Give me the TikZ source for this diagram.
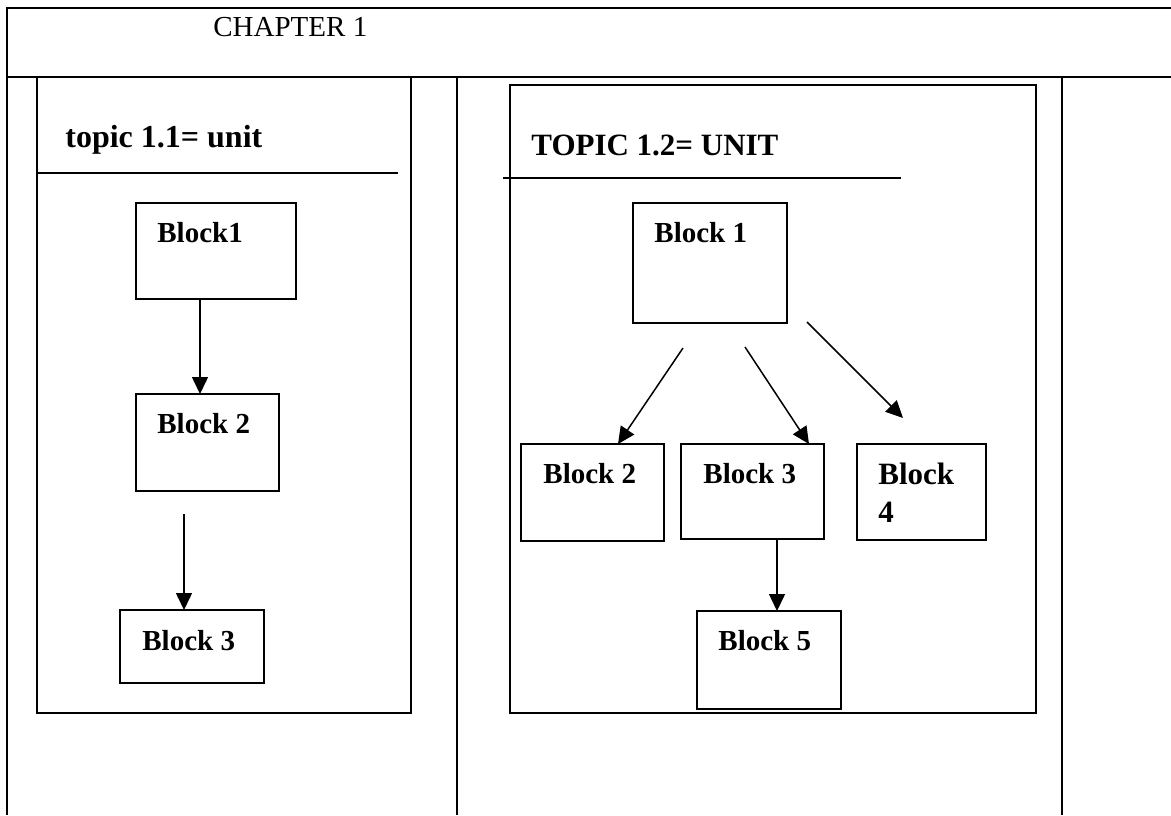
\documentclass[tikz,border=0pt]{standalone}
\usepackage{fontspec}
\setmainfont{Liberation Serif}
\usetikzlibrary{arrows.meta,calc}
\begin{document}
\begin{tikzpicture}[x=0.5pt,y=-0.5pt,
  frame/.style={line width=1pt},
  sepline/.style={line width=0.7pt},
  topicbox/.style={draw,line width=0.9pt,inner sep=0pt,outer sep=0pt,anchor=north west},
  blockbox/.style={draw,line width=0.8pt,inner sep=0pt,outer sep=0pt,anchor=north west},
  blabel/.style={anchor=base west,inner sep=0pt,xshift=10.5pt,yshift=-19.5pt,font=\fontsize{14.5}{17}\selectfont\bfseries},
  bigblabel/.style={blabel,font=\fontsize{15.5}{19}\selectfont\bfseries},
  arr/.style={line width=0.75pt,-{Triangle[length=8.5pt,width=8pt]}},
  title/.style={anchor=base west,inner sep=0pt,font=\fontsize{16}{19}\selectfont\bfseries}]
\useasboundingbox (0,0) rectangle (1171,815);
% table frame
\draw[frame] (7,815) -- (7,8) -- (1171,8);
\draw[frame] (7,77) -- (1171,77);
\draw[frame] (457,77) -- (457,815);
\draw[frame] (1062,77) -- (1062,815);
\node[anchor=base west,inner sep=0pt,font=\fontsize{14.5}{17}\selectfont] (chap) at (213,36) {CHAPTER 1};
% topic 1.1
\node[topicbox,minimum width=187pt,minimum height=318pt] (t1) at (37,77) {};
\node[title] (t1title) at (65,147) {topic 1.1= unit};
\draw[sepline] (37,173) -- (398,173);
\node[blockbox,minimum width=80pt,minimum height=48pt,label={[blabel]north west:Block1}] (lb1) at (136,203) {};
\node[blockbox,minimum width=71.5pt,minimum height=48.5pt,label={[blabel]north west:Block 2}] (lb2) at (136,394) {};
\node[blockbox,minimum width=72pt,minimum height=36.5pt,label={[blabel,xshift=0.5pt,yshift=-0.5pt]north west:Block 3}] (lb3) at (120,610) {};
\draw[arr] ([xshift=32pt]lb1.south west) -- ([xshift=32pt]lb2.north west);
\draw[arr] ([xshift=24pt,yshift=-11.5pt]lb2.south west) -- ([xshift=32pt]lb3.north west);
% topic 1.2
\node[topicbox,minimum width=263pt,minimum height=314pt] (t2) at (510,85) {};
\node[title,font=\fontsize{15.5}{19}\selectfont\bfseries] (t2title) at (531,155) {TOPIC 1.2= UNIT};
\draw[sepline] (503,178) -- (901,178);
\node[blockbox,minimum width=77pt,minimum height=60pt,label={[blabel]north west:Block 1}] (rb1) at (633,203) {};
\node[blockbox,minimum width=71.5pt,minimum height=48.5pt,label={[blabel,xshift=0.5pt]north west:Block 2}] (rb2) at (521,444) {};
\node[blockbox,minimum width=71.5pt,minimum height=47.5pt,label={[blabel,xshift=0.5pt]north west:Block 3}] (rb3) at (681,444) {};
\node[blockbox,minimum width=64.5pt,minimum height=48pt,
  label={[bigblabel,yshift=-0.5pt]north west:Block},
  label={[bigblabel,yshift=-19.5pt]north west:4}] (rb4) at (857,444) {};
\node[blockbox,minimum width=72pt,minimum height=49pt,label={[blabel]north west:Block 5}] (rb5) at (697,611) {};
\draw[arr] ([xshift=25pt,yshift=-12.5pt]rb1.south west) -- ([xshift=48.5pt]rb2.north west);
\draw[arr] ([xshift=56pt,yshift=-12pt]rb1.south west) -- ([xshift=64pt]rb3.north west);
\draw[arr] ([xshift=10pt,yshift=0.5pt]rb1.south east) -- ([xshift=23pt,yshift=13pt]rb4.north west);
\draw[arr] ([xshift=48pt]rb3.south west) -- ([xshift=40pt]rb5.north west);
\end{tikzpicture}
\end{document}
